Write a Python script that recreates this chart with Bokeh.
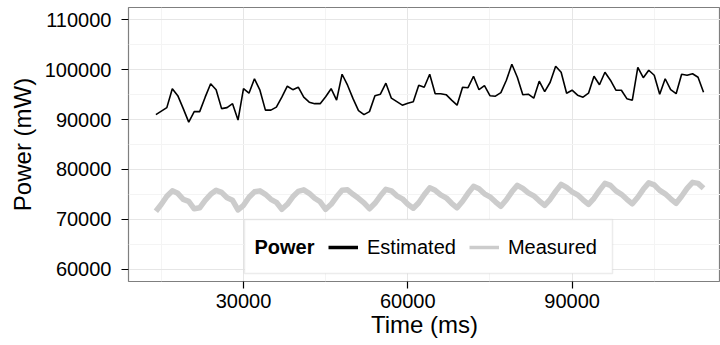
from bokeh.plotting import figure
from bokeh.models import (Range1d, FixedTicker, BasicTickFormatter, Legend, LegendItem,
                          ColumnDataSource, BoxAnnotation, Label)
from bokeh.embed import file_html
from bokeh.resources import INLINE

# ---- data ----
time_ms = list(range(14000, 115000, 1000))

estimated = [
    91000, 91700, 92400, 96200, 94800, 92200, 89500, 91600, 91600, 94500,
    97200, 96000, 92200, 92400, 93200, 89900, 96200, 95300, 98200, 95900,
    91900, 91900, 92500, 94500, 96700, 96000, 96500, 94500, 93500, 93200,
    93200, 94600, 96200, 93900, 99100, 96900, 94200, 91800, 91000, 91600,
    94800, 95100, 97300, 94300, 93600, 92900, 93300, 93600, 96900, 96500,
    99100, 95200, 95200, 95000, 93900, 92900, 96500, 96400, 98700, 96000,
    96800, 94800, 94700, 95400, 97900, 101100, 98500, 95000, 95100, 94300,
    97700, 95600, 97500, 100700, 99500, 95300, 95900, 94900, 94500, 95300,
    98700, 97000, 99500, 97900, 95900, 95900, 94200, 93900, 100500, 98400,
    99900, 98900, 95100, 98200, 96000, 95200, 99100, 98900, 99200, 98500,
    95500,
]

measured = [
    71600, 73000, 74600, 75700, 75200, 74000, 73600, 72100, 72300, 73800,
    75000, 75800, 75400, 74300, 73800, 71900, 72800, 74400, 75500, 75700,
    75000, 74000, 73400, 72000, 73000, 74500, 75600, 75900, 75200, 74200,
    73500, 72000, 73000, 74500, 75800, 75900, 75000, 74200, 73300, 72100,
    73200, 74700, 76000, 75700, 74700, 74100, 73000, 72200, 73300, 74900,
    76300, 75800, 74900, 74300, 73200, 72300, 73600, 75200, 76600, 76100,
    75100, 74500, 73500, 72600, 73900, 75500, 76800, 76200, 75300, 74700,
    73700, 72800, 74000, 75600, 77000, 76400, 75500, 74900, 73900, 73000,
    74200, 75800, 77200, 76800, 75700, 75000, 74000, 73100, 74400, 76000,
    77300, 76900, 75800, 75100, 74100, 73200, 74600, 76200, 77400, 77200,
    76200,
]

series_names = ["Estimated", "Measured"]
legend_title = "Power"
x_major = [30000, 60000, 90000, 120000]
x_minor = [15000, 45000, 75000, 105000]
y_major = [60000, 70000, 80000, 90000, 100000, 110000]
y_minor = [55000, 65000, 75000, 85000, 95000, 105000, 115000]

FONT = "Liberation Sans"
SMALL = "20px"

src = ColumnDataSource(dict(t=time_ms, est=estimated, meas=measured))

p = figure(width=720, height=345, output_backend="svg", toolbar_location=None,
           x_range=Range1d(9000, 117100), y_range=Range1d(57500, 112500),
           min_border_left=128, min_border_right=0, min_border_top=7,
           min_border_bottom=64)

p.background_fill_color = "white"
p.border_fill_color = "white"
p.outline_line_color = "#7f7f7f"
p.outline_line_width = 1.2

p.xaxis.ticker = FixedTicker(ticks=x_major, minor_ticks=x_minor)
p.yaxis.ticker = FixedTicker(ticks=y_major, minor_ticks=y_minor)
for ax in (p.xaxis, p.yaxis):
    ax.formatter = BasicTickFormatter(use_scientific=False)
    ax.axis_line_color = None
    ax.major_tick_line_color = "black"
    ax.major_tick_line_width = 1.2
    ax.major_tick_in = 0
    ax.major_tick_out = 7
    ax.minor_tick_line_color = None
    ax.major_label_text_font = FONT
    ax.major_label_text_font_size = SMALL
    ax.major_label_text_color = "black"
    ax.axis_label_text_font = FONT
    ax.axis_label_text_font_size = "24px"
    ax.axis_label_text_font_style = "normal"
    ax.axis_label_text_color = "black"

p.xaxis.axis_label = "Time (ms)"
p.yaxis.axis_label = "Power (mW)"
p.xaxis.major_label_standoff = 5
p.xaxis.axis_label_standoff = 0
p.yaxis.major_label_standoff = 10
p.yaxis.axis_label_standoff = 6

p.xgrid.grid_line_color = "#e6e6e6"
p.ygrid.grid_line_color = "#e6e6e6"
p.xgrid.minor_grid_line_color = "#f4f4f4"
p.ygrid.minor_grid_line_color = "#f4f4f4"
p.xgrid.grid_line_width = 1
p.ygrid.grid_line_width = 1

p.line("t", "est", source=src, line_color="black", line_width=1.6)
p.line("t", "meas", source=src, line_color="#cccccc", line_width=5.5,
       line_join="round")

# legend-only keys (thicker, as in the reference legend)
nan = float("nan")
k1 = p.line(x=[nan], y=[nan], line_color="black", line_width=3.5)
k2 = p.line(x=[nan], y=[nan], line_color="#cccccc", line_width=3.5)

# legend frame and title drawn separately (title sits left of the keys)
box = BoxAnnotation(left=116, right=484, bottom=8, top=62,
                    left_units="screen", right_units="screen",
                    bottom_units="screen", top_units="screen",
                    fill_color="white", fill_alpha=1,
                    line_color="#bfbfbf", line_width=1.5, level="annotation")
p.add_layout(box)

title = Label(x=126, y=35, x_units="screen", y_units="screen", text=legend_title,
              text_font=FONT, text_font_size=SMALL, text_font_style="bold",
              text_color="black", text_baseline="middle", text_align="left",
              level="annotation")
p.add_layout(title)

legend = Legend(items=[LegendItem(label=series_names[0], renderers=[k1]),
                       LegendItem(label=series_names[1], renderers=[k2])],
                orientation="horizontal", location=(200, 17))
legend.label_text_font = FONT
legend.label_text_font_size = SMALL
legend.label_text_color = "black"
legend.glyph_width = 30
legend.glyph_height = 34
legend.label_standoff = 9
legend.spacing = 13
legend.padding = 10
legend.margin = 0
legend.border_line_color = None
legend.background_fill_alpha = 0
p.add_layout(legend)

open("out.html", "w").write(file_html(p, INLINE))
